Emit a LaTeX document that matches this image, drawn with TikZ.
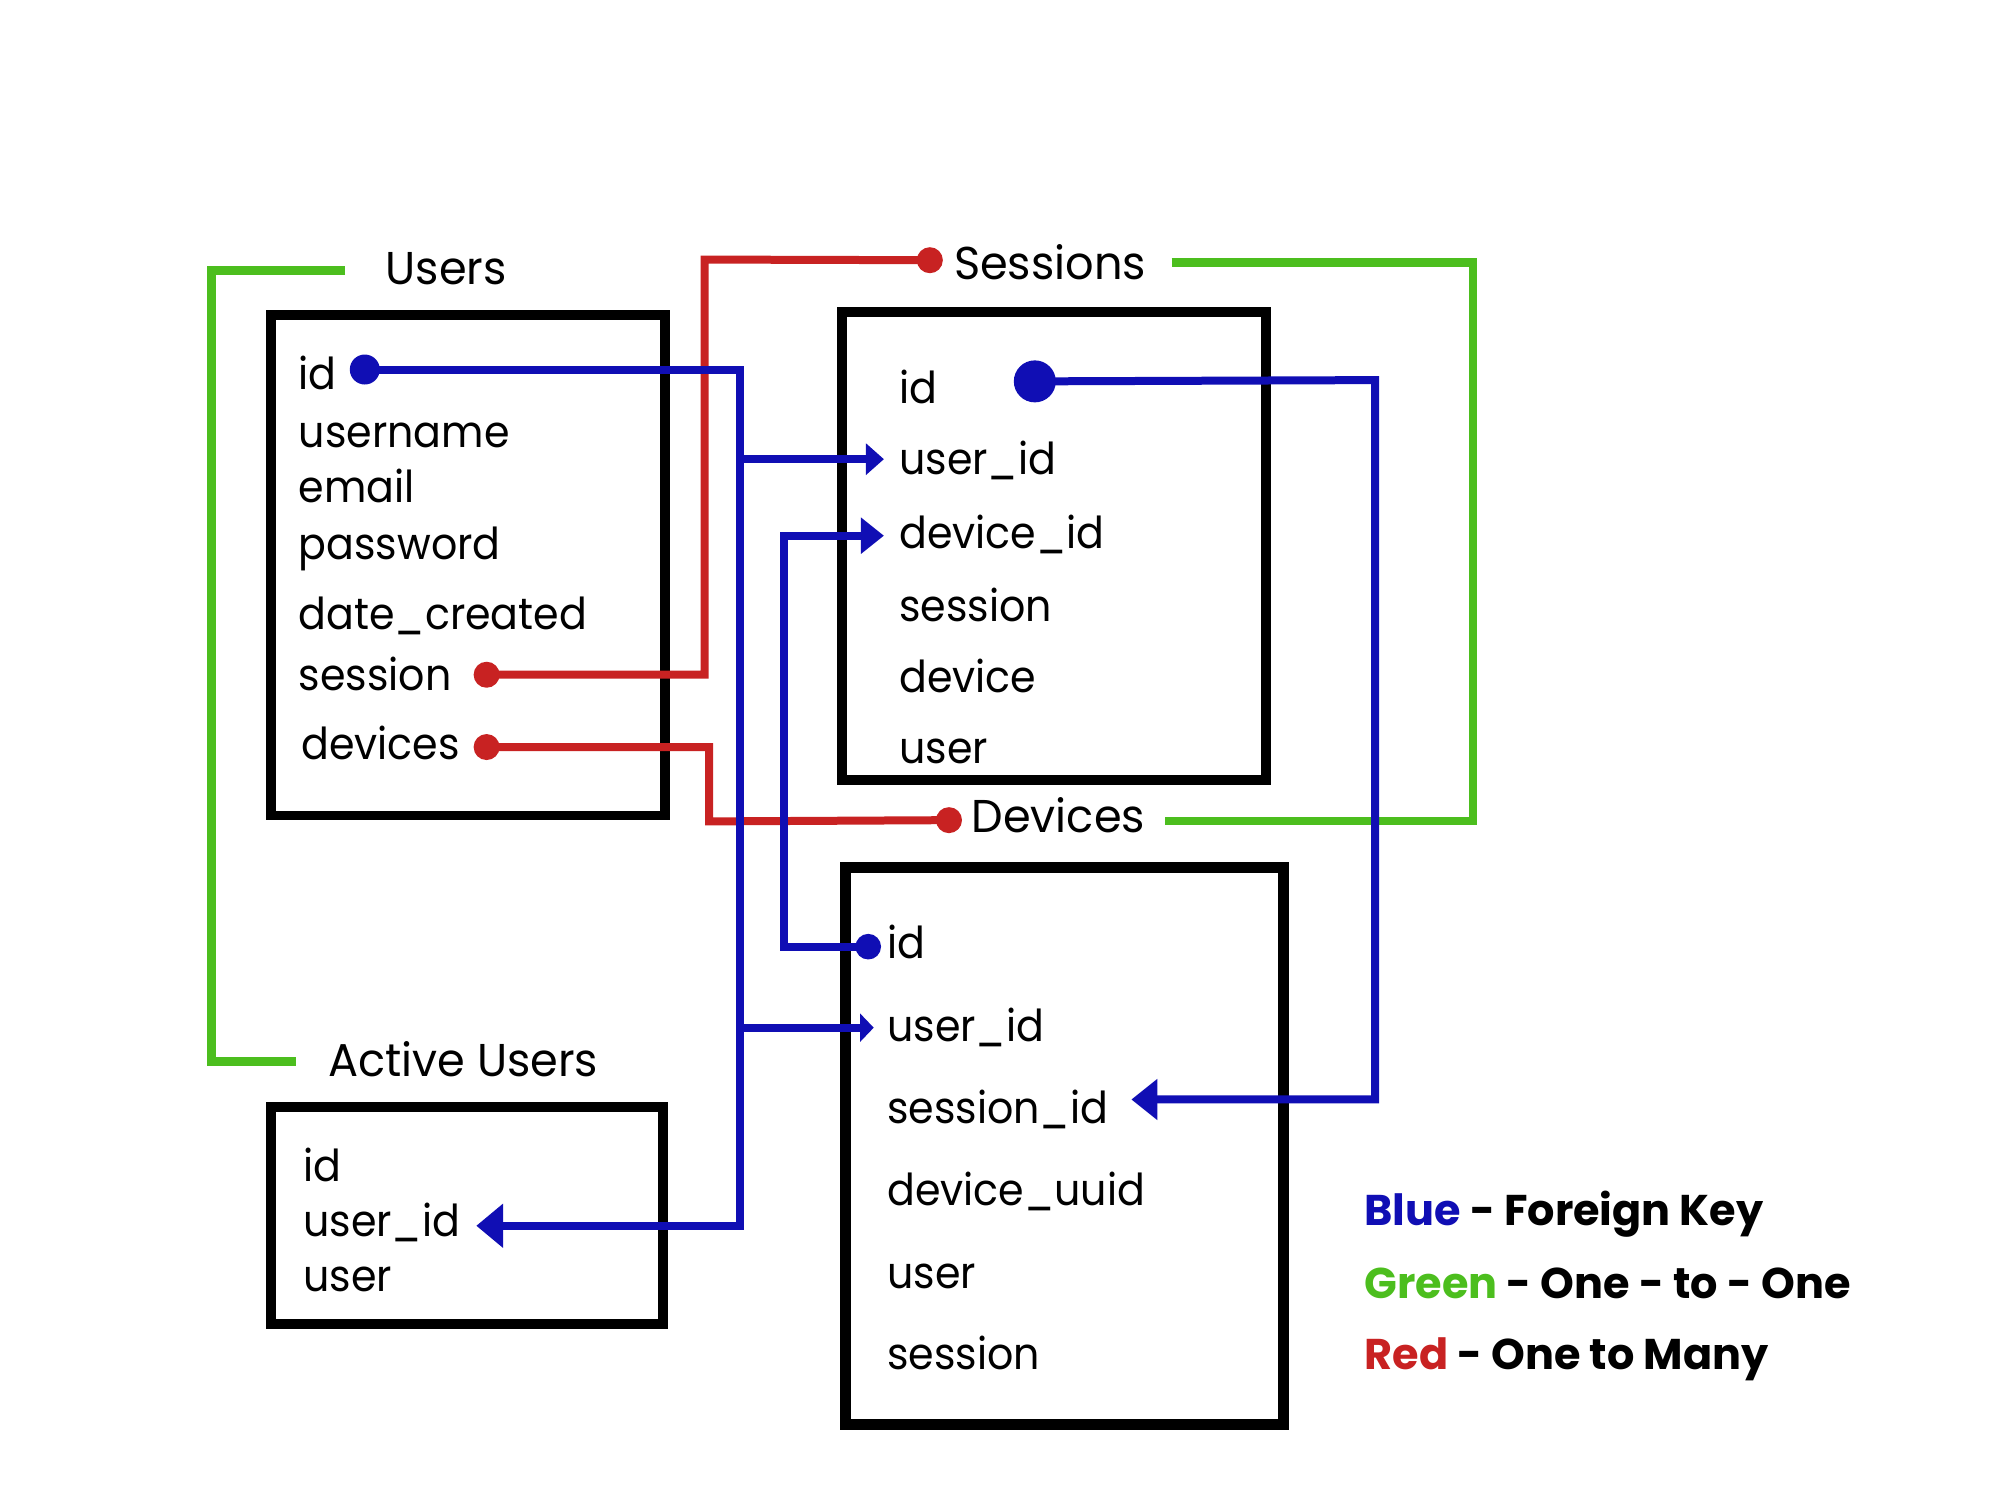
\documentclass[tikz,border=0pt]{standalone}
\usepackage{fontspec}
\setmainfont{Poppins}[FakeStretch=0.935]
\newfontfamily\ttlfont{Poppins}[FakeStretch=0.97]
\newfontfamily\legfont{Poppins}
\usetikzlibrary{arrows.meta,calc}
\definecolor{fkblue}{RGB}{16,14,180}
\definecolor{otmred}{RGB}{200,34,34}
\definecolor{ootgreen}{RGB}{76,190,30}
\begin{document}
\begin{tikzpicture}[x=0.6378pt,y=-0.6378pt,
  tbl/.style={draw=black,line width=4.8pt},
  fld/.style={anchor=base west,inner sep=0pt,font=\fontsize{22}{26}\selectfont},
  ttl/.style={anchor=base west,inner sep=0pt,font=\ttlfont\fontsize{23}{27}\selectfont},
  fk/.style={draw=fkblue,line width=4pt},
  omany/.style={draw=otmred,line width=4pt},
  oone/.style={draw=ootgreen,line width=4.3pt},
  bdot/.style={circle,fill=fkblue,inner sep=0pt,minimum size=#1},
  rdot/.style={circle,fill=otmred,inner sep=0pt,minimum size=13pt},
  leg/.style={anchor=base west,inner sep=0pt,font=\legfont\fontsize{21.5}{24}\selectfont\bfseries}]
\useasboundingbox (0,0) rectangle (1568,1176);

% tables
\draw[tbl] (212.4,247) rectangle (521.5,639.5);
\draw[tbl] (660,244.7) rectangle (992.6,611.4);
\draw[tbl,line width=5.6pt] (663,680) rectangle (1006,1117);
\draw[tbl] (212.4,868) rectangle (520,1038);

% titles
\node[ttl] (t-users) at (302,222.7) {Users};
\node[ttl] (t-sess) at (747.7,219) {Sessions};
\node[ttl] (t-dev) at (761.5,653) {Devices};
\node[ttl] (t-au) at (257,844) {Active Users};

% Users fields
\node[fld] (u-id) at (234,305) {id};
\node[fld] (u-name) at (234,350.7) {username};
\node[fld] (u-email) at (234,394) {email};
\node[fld] (u-pw) at (234,438.5) {password};
\node[fld] (u-date) at (234,493.3) {date\_created};
\node[fld] (u-sess) at (234,541) {session};
\node[fld] (u-dev) at (236,595.6) {devices};

% Sessions fields
\node[fld] (s-id) at (704.7,316.6) {id};
\node[fld] (s-uid) at (704.7,372.4) {user\_id};
\node[fld] (s-did) at (704.7,429.7) {device\_id};
\node[fld] (s-sess) at (704.7,487) {session};
\node[fld] (s-dev) at (704.7,543) {device};
\node[fld] (s-user) at (704.7,598.7) {user};

% Devices fields
\node[fld] (d-id) at (695.3,751.6) {id};
\node[fld] (d-uid) at (695.3,816.6) {user\_id};
\node[fld] (d-sid) at (695.3,881) {session\_id};
\node[fld] (d-uuid) at (695.3,945.2) {device\_uuid};
\node[fld] (d-user) at (695.3,1010.3) {user};
\node[fld] (d-sess) at (695.3,1073.9) {session};

% Active Users fields
\node[fld] (a-id) at (237.5,926.4) {id};
\node[fld] (a-uid) at (237.5,969.6) {user\_id};
\node[fld] (a-user) at (237.5,1012.7) {user};

% junctions and arrow tips
\coordinate (j-uid-top) at (580,289.7);
\coordinate (j-uid-s) at (580,360);
\coordinate (j-uid-d) at (580,805.7);
\coordinate (j-uid-bot) at (580,961);
\coordinate (tip-s-uid) at (693,360);
\coordinate (tip-d-uid) at (685,805.7);
\coordinate (tip-a-uid) at (373.4,961);
\coordinate (j-did-bot) at (615,742.2);
\coordinate (j-did-top) at (615,420);
\coordinate (tip-s-did) at (693,420);
\coordinate (j-sid-top) at (1078,298);
\coordinate (j-sid-bot) at (1078,862);
\coordinate (tip-d-sid) at (887,862);
\coordinate (j-rs-bot) at (552.5,529);
\coordinate (j-rs-top) at (552.5,203.5);
\coordinate (j-rd-top) at (556,585.7);
\coordinate (j-rd-bot) at (556,644);
\coordinate (g1a) at (270.5,212);
\coordinate (g1b) at (166,212);
\coordinate (g1c) at (166,832);
\coordinate (g1d) at (232.4,832);
\coordinate (g2a) at (918.6,206);
\coordinate (g2b) at (1154.7,206);
\coordinate (g2c) at (1154.7,643.7);
\coordinate (g2d) at (913,643.7);

% dots
\node[bdot=15pt] (dot-u-id) at (286,289.7) {};
\node[bdot=21pt] (dot-s-id) at (811.3,299) {};
\node[bdot=12.8pt] (dot-d-id) at (680.7,742.2) {};
\node[rdot] (dot-u-sess) at (381.5,529) {};
\node[rdot] (dot-u-dev) at (381.5,585.7) {};
\node[rdot] (dot-t-sess) at (729,204) {};
\node[rdot] (dot-t-dev) at (744,643) {};

% one-to-one (green)
\draw[oone] (g1a) -- (g1b) -- (g1c) -- (g1d);
\draw[oone] (g2a) -- (g2b) -- (g2c) -- (g2d);

% one-to-many (red)
\draw[omany] (dot-u-sess.center) -- (j-rs-bot) -- (j-rs-top) -- (dot-t-sess.center);
\draw[omany] (dot-u-dev.center) -- (j-rd-top) -- (j-rd-bot) -- (dot-t-dev.center);

% foreign keys (blue)
\draw[fk,-{Triangle[length=13.4pt,width=21.3pt]}] (dot-u-id.center) -- (j-uid-top) -- (j-uid-bot) -- (tip-a-uid);
\draw[fk,-{Triangle[length=9pt,width=15.3pt]}] (j-uid-s) -- (tip-s-uid);
\draw[fk,-{Triangle[length=6.8pt,width=13.8pt]}] (j-uid-d) -- (tip-d-uid);
\draw[fk,-{Triangle[length=11.5pt,width=17.5pt]}] (dot-d-id.center) -- (j-did-bot) -- (j-did-top) -- (tip-s-did);
\draw[fk,-{Triangle[length=13pt,width=19.8pt]}] (dot-s-id.center) -- (j-sid-top) -- (j-sid-bot) -- (tip-d-sid);

% legend
\node[leg] (leg-blue) at (1069.5,960.7) {\textcolor{fkblue}{Blue} - Foreign Key};
\node[leg] (leg-green) at (1069.5,1018) {\textcolor{ootgreen}{Green} - One - to - One};
\node[leg] (leg-red) at (1069.5,1074) {\textcolor{otmred}{Red} - One to Many};
\end{tikzpicture}
\end{document}
